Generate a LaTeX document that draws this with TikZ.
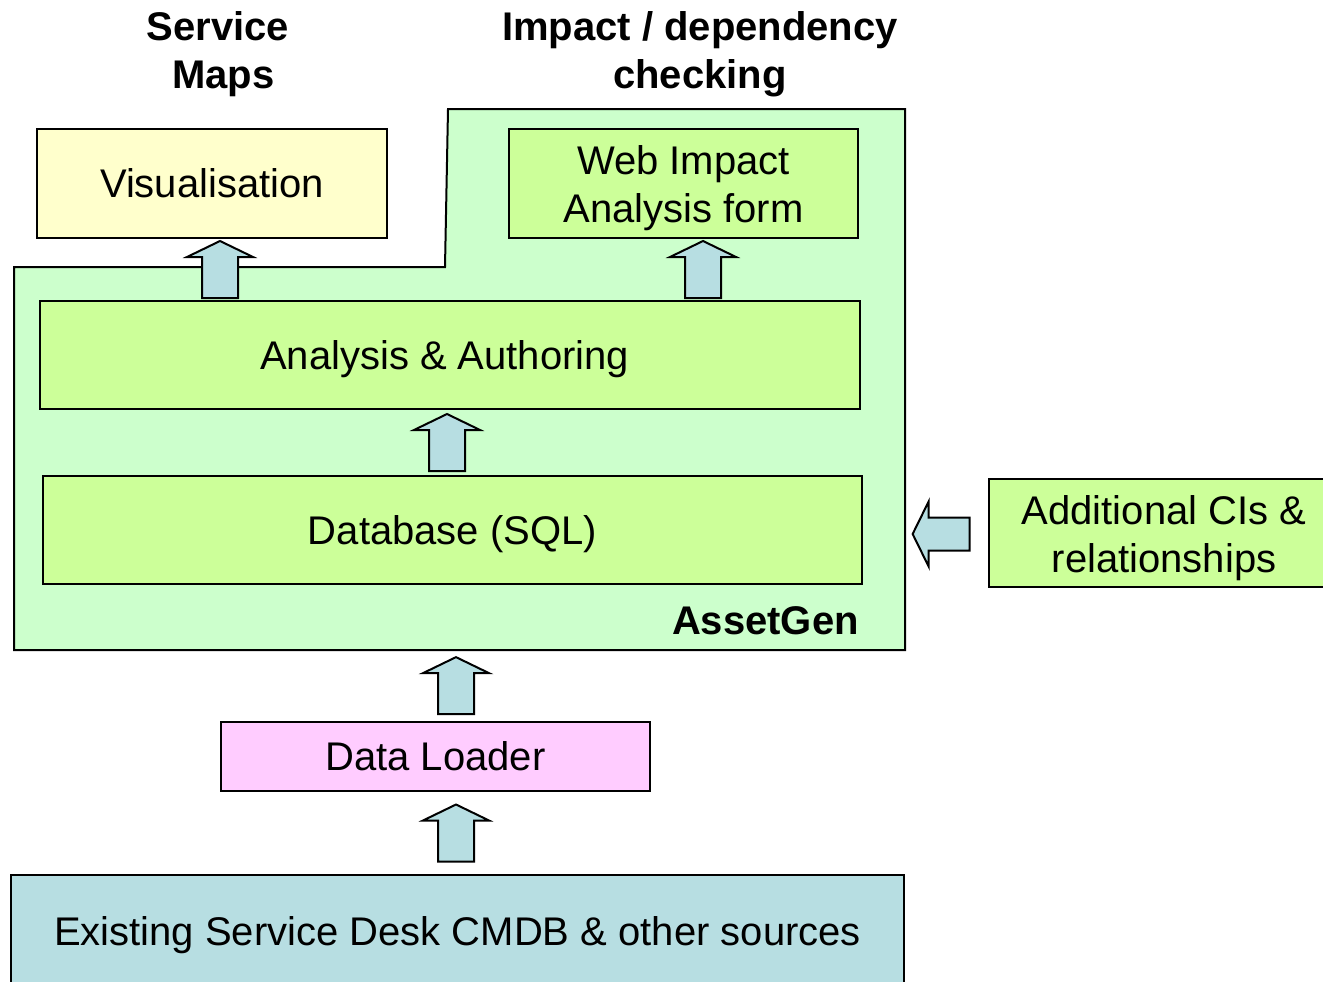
\documentclass[tikz,border=0pt]{standalone}
\usepackage{fontspec}
\setmainfont{Liberation Sans}
\usetikzlibrary{calc,fit}

\definecolor{paleyellow}{RGB}{255,255,204}
\definecolor{palegreen}{RGB}{204,255,204}
\definecolor{limegreen}{RGB}{204,255,153}
\definecolor{palepink}{RGB}{255,204,255}
\definecolor{paleblue}{RGB}{183,222,226}

\tikzset{
  box/.style={draw, line width=1.5pt, inner sep=0pt},
  boxtext/.style={align=center, inner sep=0pt, font=\fontsize{30}{36}\selectfont},
  oneline/.style={boxtext, text height=24pt, text depth=2.6pt},
  twolines/.style={boxtext, yshift=-3.5pt},
  heading/.style={align=center, font=\bfseries\fontsize{30}{36}\selectfont},
  blockarrow/.style={draw, line width=1.5pt, fill=paleblue, line join=miter}
}

% up arrow half way between two nodes, at x = #3
\newcommand{\blockup}[3]{%
  \draw[blockarrow] let \p1=($(#1.north)!.5!(#2.south)$), \p2=(#3,0) in
    (\x2-13.5pt,\y1-21.375pt) -- (\x2-13.5pt,\y1+9.375pt) -- (\x2-24.75pt,\y1+9.375pt)
    -- (\x2,\y1+21.375pt) -- (\x2+24.75pt,\y1+9.375pt) -- (\x2+13.5pt,\y1+9.375pt)
    -- (\x2+13.5pt,\y1-21.375pt) -- cycle;}
% left arrow between two nodes, at y = #3
\newcommand{\blockleft}[3]{%
  \draw[blockarrow] let \p1=($(#1.west)!.5!(#2.east)+(-5.5,0)$), \p2=(0,#3) in
    (\x1+21.375pt,\y2-12.375pt) -- (\x1-9.375pt,\y2-12.375pt) -- (\x1-9.375pt,\y2-24.375pt)
    -- (\x1-21.375pt,\y2) -- (\x1-9.375pt,\y2+24.375pt) -- (\x1-9.375pt,\y2+12.375pt)
    -- (\x1+21.375pt,\y2+12.375pt) -- cycle;}

\begin{document}
\begin{tikzpicture}[x=0.75pt, y=-0.75pt]

	\clip (0,0) rectangle (1323,981);

	% headings
	\node[heading] (svc) at (218,54) {Service\\\hspace*{8pt}Maps};
	\node[heading] (imp) at (700,54) {Impact / dependency\\checking};

	% AssetGen area
	\node[fit={(14,267) (905,650)}, inner sep=0pt] (asset) {};
	\draw[line width=1.5pt, fill=palegreen] (14,267) -- (445,267) -- (448,109)
		-- (905,109) -- (905,650) -- (14,650) -- cycle;
	\node[heading, anchor=east, inner sep=0pt] (agname) at (859,621) {AssetGen};

	% boxes
	\node[box, fill=paleyellow, fit={(37,129) (387,238)}] (vis) {};
	\node[box, fill=limegreen, fit={(509,129) (858,238)}] (web) {};
	\node[box, fill=limegreen, fit={(40,301) (860,409)}] (auth) {};
	\node[box, fill=limegreen, fit={(43,476) (862,584)}] (db) {};
	\node[box, fill=limegreen, fit={(989,479) (1339,587)}] (extra) {};
	\node[box, fill=palepink, fit={(221,722) (650,791)}] (loader) {};
	\node[box, fill=paleblue, fit={(11,875) (904,987)}] (cmdb) {};

	\node[oneline] (vistext) at (vis.center) {Visualisation};
	\node[twolines] (webtext) at (web.center) {Web Impact\\Analysis form};
	\node[oneline] (authtext) at ([xshift=-4pt]auth.center) {Analysis \& Authoring};
	\node[oneline] (dbtext) at (db.center) {Database (SQL)};
	\node[twolines] (extratext) at (extra.center) {Additional CIs \&\\relationships};
	\node[oneline] (loadertext) at (loader.center) {Data Loader};
	\node[oneline] (cmdbtext) at (cmdb.center) {Existing Service Desk CMDB \& other sources};

	% arrows
	\blockup{auth}{vis}{220}
	\blockup{auth}{web}{703}
	\blockup{db}{auth}{447}
	\blockup{loader}{asset}{456}
	\blockup{cmdb}{loader}{456}
	\blockleft{extra}{asset}{534}

\end{tikzpicture}
\end{document}
